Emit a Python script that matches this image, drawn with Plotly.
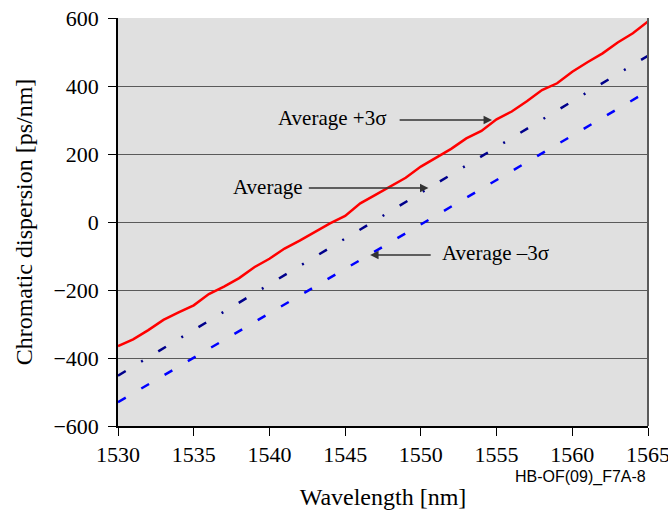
import plotly.graph_objects as go

wl_red = list(range(1530, 1566))
plus3s = [-365, -345, -318, -288, -266, -245, -212, -190, -165, -133,
          -108, -78, -55, -30, -4, 18, 55, 80, 106, 130,
          163, 190, 215, 246, 268, 302, 325, 355, 388, 408,
          442, 470, 496, 528, 555, 590]

wl_lin = [1530, 1535, 1540, 1545, 1550, 1555, 1560, 1565]
average = [-452, -318, -183, -49, 86, 220, 355, 489]
minus3s = [-530, -399, -268, -137, -6, 125, 256, 385]

xticks = [1530, 1535, 1540, 1545, 1550, 1555, 1560, 1565]
yticks = [-600, -400, -200, 0, 200, 400, 600]

serif = "Times New Roman, Liberation Serif, serif"
tick_font = dict(family=serif, size=22, color="black")
title_font = dict(family=serif, size=24, color="black")

fig = go.Figure()
fig.add_trace(go.Scatter(x=wl_lin, y=minus3s, mode="lines",
                         line=dict(color="#0000FF", width=2.5, dash="9px,18px")))
fig.add_trace(go.Scatter(x=wl_lin, y=average, mode="lines",
                         line=dict(color="#00008B", width=2.5, dash="9px,18px,2px,18px")))
fig.add_trace(go.Scatter(x=wl_red, y=plus3s, mode="lines",
                         line=dict(color="#FF0000", width=2.5)))

fig.update_layout(
    width=668, height=514,
    margin=dict(l=118, r=20, t=18, b=88),
    paper_bgcolor="white", plot_bgcolor="#E0E0E0",
    showlegend=False,
    font=dict(family=serif, size=21, color="black"),
)
fig.update_xaxes(range=[1530, 1565], tickvals=xticks, showgrid=False, automargin=False,
                 zeroline=False, showline=True, linecolor="black", linewidth=1.5,
                 ticks="outside", ticklen=8, tickcolor="black", tickfont=tick_font,
                 ticklabeloverflow="allow",
                 title=dict(text="Wavelength [nm]", font=title_font, standoff=22))
fig.update_yaxes(range=[-600, 600], tickvals=yticks, showgrid=True, automargin=False,
                 gridcolor="#5a5a5a", gridwidth=1.3, zeroline=False,
                 showline=True, linecolor="black", linewidth=1.5,
                 ticks="outside", ticklen=8, tickcolor="black", tickfont=tick_font,
                 ticklabeloverflow="allow", ticklabelstandoff=5,
                 title=dict(text="Chromatic dispersion [ps/nm]", font=title_font, standoff=14))

fig.add_shape(type="line", xref="paper", yref="paper", x0=1, x1=1, y0=0, y1=1,
              line=dict(color="#5a5a5a", width=2))

ann_font = dict(family=serif, size=21, color="black")
fig.add_annotation(x=1544.1, y=306, text="Average +3σ", showarrow=False, font=ann_font)
fig.add_annotation(x=1554.7, y=300, ax=1548.5, ay=300, axref="x", ayref="y",
                   text="", showarrow=True, arrowhead=2, arrowsize=1.3, arrowwidth=1.3,
                   arrowcolor="#333333")
fig.add_annotation(x=1539.9, y=103, text="Average", showarrow=False, font=ann_font)
fig.add_annotation(x=1550.5, y=100, ax=1542.5, ay=100, axref="x", ayref="y",
                   text="", showarrow=True, arrowhead=2, arrowsize=1.3, arrowwidth=1.3,
                   arrowcolor="#333333")
fig.add_annotation(x=1554.9, y=-91, text="Average –3σ", showarrow=False, font=ann_font)
fig.add_annotation(x=1546.65, y=-97, ax=1550.75, ay=-97, axref="x", ayref="y",
                   text="", showarrow=True, arrowhead=2, arrowsize=1.3, arrowwidth=1.3,
                   arrowcolor="#333333")
fig.add_annotation(xref="paper", yref="paper", x=1, y=-0.125, xanchor="right", yanchor="middle",
                   text="HB-OF(09)_F7A-8", showarrow=False,
                   font=dict(family="Liberation Sans", size=16, color="black"))

fig.write_html("out.html")
